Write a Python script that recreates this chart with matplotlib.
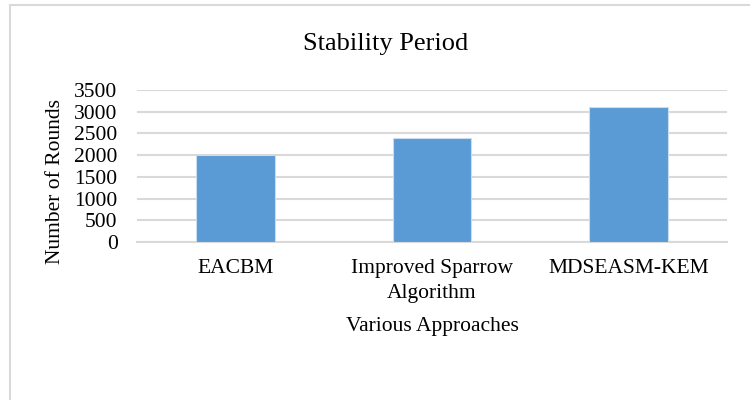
import matplotlib
matplotlib.use("Agg")
import matplotlib.pyplot as plt
from matplotlib.patches import Rectangle

plt.rcParams['font.family'] = ['Liberation Serif', 'DejaVu Serif']

# Stability period per approach
approaches = ['EACBM', 'Improved Sparrow\nAlgorithm', 'MDSEASM-KEM']
rounds = [2000, 2400, 3100]
y_ticks = [0, 500, 1000, 1500, 2000, 2500, 3000, 3500]

fig = plt.figure(figsize=(7.5, 4), dpi=100)
ax = fig.add_axes([137 / 750, 1 - 242 / 400, 590 / 750, 152 / 400])

# chart border (runs off the right and bottom of the image)
fig.patches.append(Rectangle((10 / 750, -0.2), 1.2, 1.2 - 5 / 400,
                             transform=fig.transFigure, fill=False,
                             edgecolor='#d9d9d9', linewidth=1.5))

x = range(len(approaches))
ax.bar(x, rounds, width=0.4, color='#5b9bd5', edgecolor='#c9dcf0',
       linewidth=0.8, zorder=3)

ax.set_xlim(-0.5, 2.5)
ax.set_ylim(0, 3500)
ax.set_yticks(y_ticks)
ax.set_yticklabels([str(v) for v in y_ticks])
ax.set_xticks(list(x))
ax.set_xticklabels(approaches, linespacing=1.45)
ax.tick_params(axis='y', length=0, pad=14, labelsize=15.5)
ax.tick_params(axis='x', length=0, pad=12, labelsize=15.5)

ax.grid(axis='y', color='#d9d9d9', linewidth=1.5, zorder=0)
for s in ['top', 'right', 'left']:
    ax.spines[s].set_visible(False)
ax.spines['bottom'].set_color('#d9d9d9')
ax.spines['bottom'].set_linewidth(1.5)

fig.text(386 / 750, 1 - 44 / 400, 'Stability Period', fontsize=19,
         ha='center', va='center')
fig.text(432 / 750, 1 - 326 / 400, 'Various Approaches', fontsize=15.5,
         ha='center', va='center')
fig.text(56 / 750, 1 - 181 / 400, 'Number of Rounds', fontsize=15.5,
         rotation=90, ha='center', va='center')

fig.savefig('out.png', dpi=100, facecolor='white')
